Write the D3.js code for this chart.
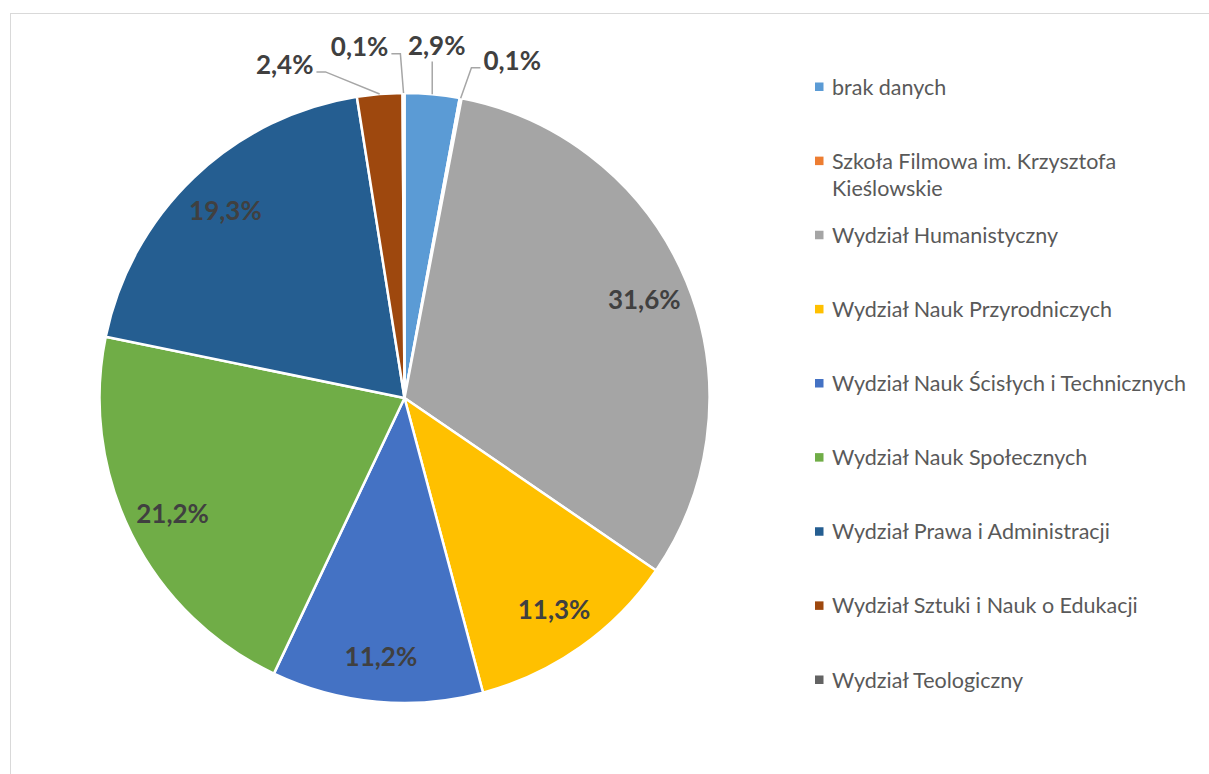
<!DOCTYPE html>
<html>
<head>
<meta charset="utf-8">
<script src="https://cdn.jsdelivr.net/npm/d3@7"></script>
<style>
  html, body { margin: 0; padding: 0; background: #ffffff; }
  svg { display: block; }
</style>
</head>
<body>
<svg id="chart" width="1209" height="774"></svg>
<script>
const categories = [
  "brak danych",
  "Szkoła Filmowa im. Krzysztofa Kieślowskie",
  "Wydział Humanistyczny",
  "Wydział Nauk Przyrodniczych",
  "Wydział Nauk Ścisłych i Technicznych",
  "Wydział Nauk Społecznych",
  "Wydział Prawa i Administracji",
  "Wydział Sztuki i Nauk o Edukacji",
  "Wydział Teologiczny"
];
const values = [2.9, 0.1, 31.6, 11.3, 11.2, 21.2, 19.3, 2.4, 0.1];
const colors = ["#5B9BD5", "#ED7D31", "#A5A5A5", "#FFC000", "#4472C4", "#70AD47", "#255E91", "#9E480E", "#636363"];

const svg = d3.select("#chart");
const cx = 404.5, cy = 398, R = 305;

// chart area border (partially visible)
svg.append("rect")
  .attr("x", 10.5).attr("y", 13.5)
  .attr("width", 1400).attr("height", 1000)
  .attr("fill", "none").attr("stroke", "#d9d9d9").attr("stroke-width", 1);

const data = categories.map((c, i) => ({ name: c, value: values[i], color: colors[i] }));
const fmt = v => d3.format(".1f")(v).replace(".", ",") + "%";

const pie = d3.pie().sort(null).value(d => d.value).startAngle(0).endAngle(2 * Math.PI);
const arcs = pie(data);
const arc = d3.arc().innerRadius(0).outerRadius(R);

const g = svg.append("g").attr("transform", `translate(${cx},${cy})`);

g.selectAll("path.slice").data(arcs).enter().append("path")
  .attr("class", "slice")
  .attr("d", arc)
  .attr("fill", d => d.data.color)
  .attr("stroke", "#ffffff")
  .attr("stroke-width", 2.5)
  .attr("stroke-linejoin", "round");

const labelFont = "Lato, 'Open Sans', sans-serif";
const inside = arcs.filter(d => d.data.value >= 5);
const outside = arcs.filter(d => d.data.value < 5);

// inside labels
const inArc = d3.arc().innerRadius(R * 0.85).outerRadius(R * 0.85);
g.selectAll("text.inlab").data(inside).enter().append("text")
  .attr("class", "inlab")
  .attr("transform", d => `translate(${inArc.centroid(d)})`)
  .attr("text-anchor", "middle")
  .attr("dy", "0.36em")
  .style("font-family", labelFont)
  .style("font-weight", "bold")
  .style("font-size", "26px")
  .style("fill", "#404040")
  .text(d => fmt(d.data.value));

// outside labels: spread angles around largest small slice
const mid = d => (d.startAngle + d.endAngle) / 2;
const norm = a => (a > Math.PI ? a - 2 * Math.PI : a);
const outs = outside.map(d => ({ d, a0: norm(mid(d)), a: norm(mid(d)) }))
  .sort((p, q) => p.a0 - q.a0);
const minSep = 12.5 * Math.PI / 180;
let anchorIdx = 0;
outs.forEach((o, i) => { if (o.d.data.value > outs[anchorIdx].d.data.value) anchorIdx = i; });
for (let i = anchorIdx + 1; i < outs.length; i++) outs[i].a = Math.max(outs[i].a0, outs[i - 1].a + minSep);
for (let i = anchorIdx - 1; i >= 0; i--) outs[i].a = Math.min(outs[i].a0, outs[i + 1].a - minSep);

const LR = 354;
outs.forEach(o => {
  o.lx = LR * Math.sin(o.a);
  o.ly = -LR * Math.cos(o.a);
  const am = mid(o.d);
  o.px = R * Math.sin(am);
  o.py = -R * Math.cos(am);
});

const outText = g.selectAll("text.outlab").data(outs).enter().append("text")
  .attr("class", "outlab")
  .attr("x", o => o.lx).attr("y", o => o.ly)
  .attr("text-anchor", "middle")
  .attr("dy", "0.36em")
  .style("font-family", labelFont)
  .style("font-weight", "bold")
  .style("font-size", "26px")
  .style("fill", "#404040")
  .text(o => fmt(o.d.data.value));

outText.each(function (o) { o.w = this.getComputedTextLength(); });

g.selectAll("polyline.leader").data(outs).enter().append("polyline")
  .attr("class", "leader")
  .attr("fill", "none")
  .attr("stroke", "#A6A6A6")
  .attr("stroke-width", 1.5)
  .attr("points", o => {
    if (Math.abs(o.px - o.lx) < o.w / 2 - 4) {
      return [[o.px, o.py], [o.px, o.ly + 16]].map(p => p.join(",")).join(" ");
    }
    const side = o.px > o.lx ? 1 : -1;
    const edgeX = o.lx + side * (o.w / 2 + 3);
    const elbowX = edgeX + side * 9;
    const yy = o.ly + 7;
    return [[o.px, o.py], [elbowX, yy], [edgeX, yy]].map(p => p.join(",")).join(" ");
  });

// legend
const legFont = "Lato, 'Open Sans', sans-serif";
const ly = d3.scalePoint().domain(categories).range([87, 680]);
const leg = svg.append("g");
const items = leg.selectAll("g.item").data(data).enter().append("g")
  .attr("class", "item")
  .attr("transform", d => `translate(815,${ly(d.name)})`);
items.append("rect")
  .attr("x", 0).attr("y", -4.5).attr("width", 8.5).attr("height", 8.5)
  .attr("fill", d => d.color);
const maxW = 372;
items.append("text")
  .attr("x", 17).attr("y", 0)
  .style("font-family", legFont)
  .style("font-size", "21.5px")
  .style("fill", "#595959")
  .each(function (d) {
    const t = d3.select(this);
    const words = d.name.split(" ");
    let line = [];
    let tspan = t.append("tspan").attr("x", 17).attr("dy", "0.35em");
    words.forEach(w => {
      line.push(w);
      tspan.text(line.join(" "));
      if (tspan.node().getComputedTextLength() > maxW && line.length > 1) {
        line.pop();
        tspan.text(line.join(" "));
        line = [w];
        tspan = t.append("tspan").attr("x", 17).attr("dy", "27px").text(w);
      }
    });
  });
</script>
</body>
</html>
